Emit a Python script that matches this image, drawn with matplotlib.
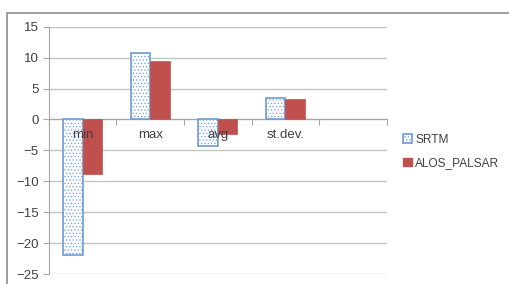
import numpy as np
import matplotlib.pyplot as plt
import matplotlib as mpl
from matplotlib.patches import Rectangle, Patch

plt.rcParams['font.family'] = ['Liberation Sans', 'DejaVu Sans']
plt.rcParams['hatch.color'] = '#c8d8ee'
plt.rcParams['hatch.linewidth'] = 0.45

categories = ['min', 'max', 'avg', 'st.dev.', '']
srtm = [-21.9, 10.7, -4.3, 3.5, np.nan]
alos = [-8.9, 9.4, -2.4, 3.3, np.nan]

fig = plt.figure(figsize=(5.1, 2.84), dpi=100)
ax = fig.add_axes([0.0955, 0.035, 0.663, 0.871])

# outer chart frame (Excel style)
fig.patches.append(Rectangle((7/510, -0.2), 1.2, 1.2 - 12.7/284,
                             transform=fig.transFigure, fill=False,
                             edgecolor='#8c8c8c', linewidth=1.2))

x = np.arange(len(categories))
w = 0.29
ax.bar(x - w/2, srtm, w, facecolor='#f9fbfe', edgecolor='#6f9bd3',
       hatch='.....', linewidth=1.2, zorder=3)
ax.bar(x + w/2, alos, w, color='#c0504d', edgecolor='#c0504d',
       linewidth=0.5, zorder=3)

ax.set_xlim(-0.5, len(categories) - 0.5)
ax.set_ylim(-25, 15)
ax.set_yticks(range(-25, 16, 5))
ax.yaxis.grid(True, color='#c4c4c4', linewidth=1.0, zorder=0)

for s in ['top', 'right']:
    ax.spines[s].set_visible(False)
ax.spines['bottom'].set_position(('data', 0))
ax.spines['bottom'].set_color('#a6a6a6')
ax.spines['left'].set_color('#a6a6a6')

# category labels drawn on top of the bars, just below the zero line
ax.set_xticks(np.arange(-0.5, len(categories)))
ax.set_xticklabels([])
ax.tick_params(axis='x', length=4, color='#a6a6a6')
for xi, lab in zip(x, categories):
    ax.text(xi, -1.6, lab, ha='center', va='top', fontsize=9.5,
            color='#404040', zorder=6)
ax.tick_params(axis='y', length=4, color='#a6a6a6', labelsize=9.5,
               labelcolor='#404040', pad=3)

handles = [Patch(facecolor='#f9fbfe', edgecolor='#6f9bd3', hatch='.....',
                 linewidth=1.2, label='SRTM'),
           Patch(facecolor='#c0504d', edgecolor='#c0504d', label='ALOS_PALSAR')]
fig.legend(handles=handles, loc='upper left', bbox_to_anchor=(0.77, 0.567),
           frameon=False, fontsize=8.6, handlelength=0.7, handleheight=0.7,
           handletextpad=0.3, labelspacing=0.95, labelcolor='#404040')

fig.savefig('out.png', dpi=100)
